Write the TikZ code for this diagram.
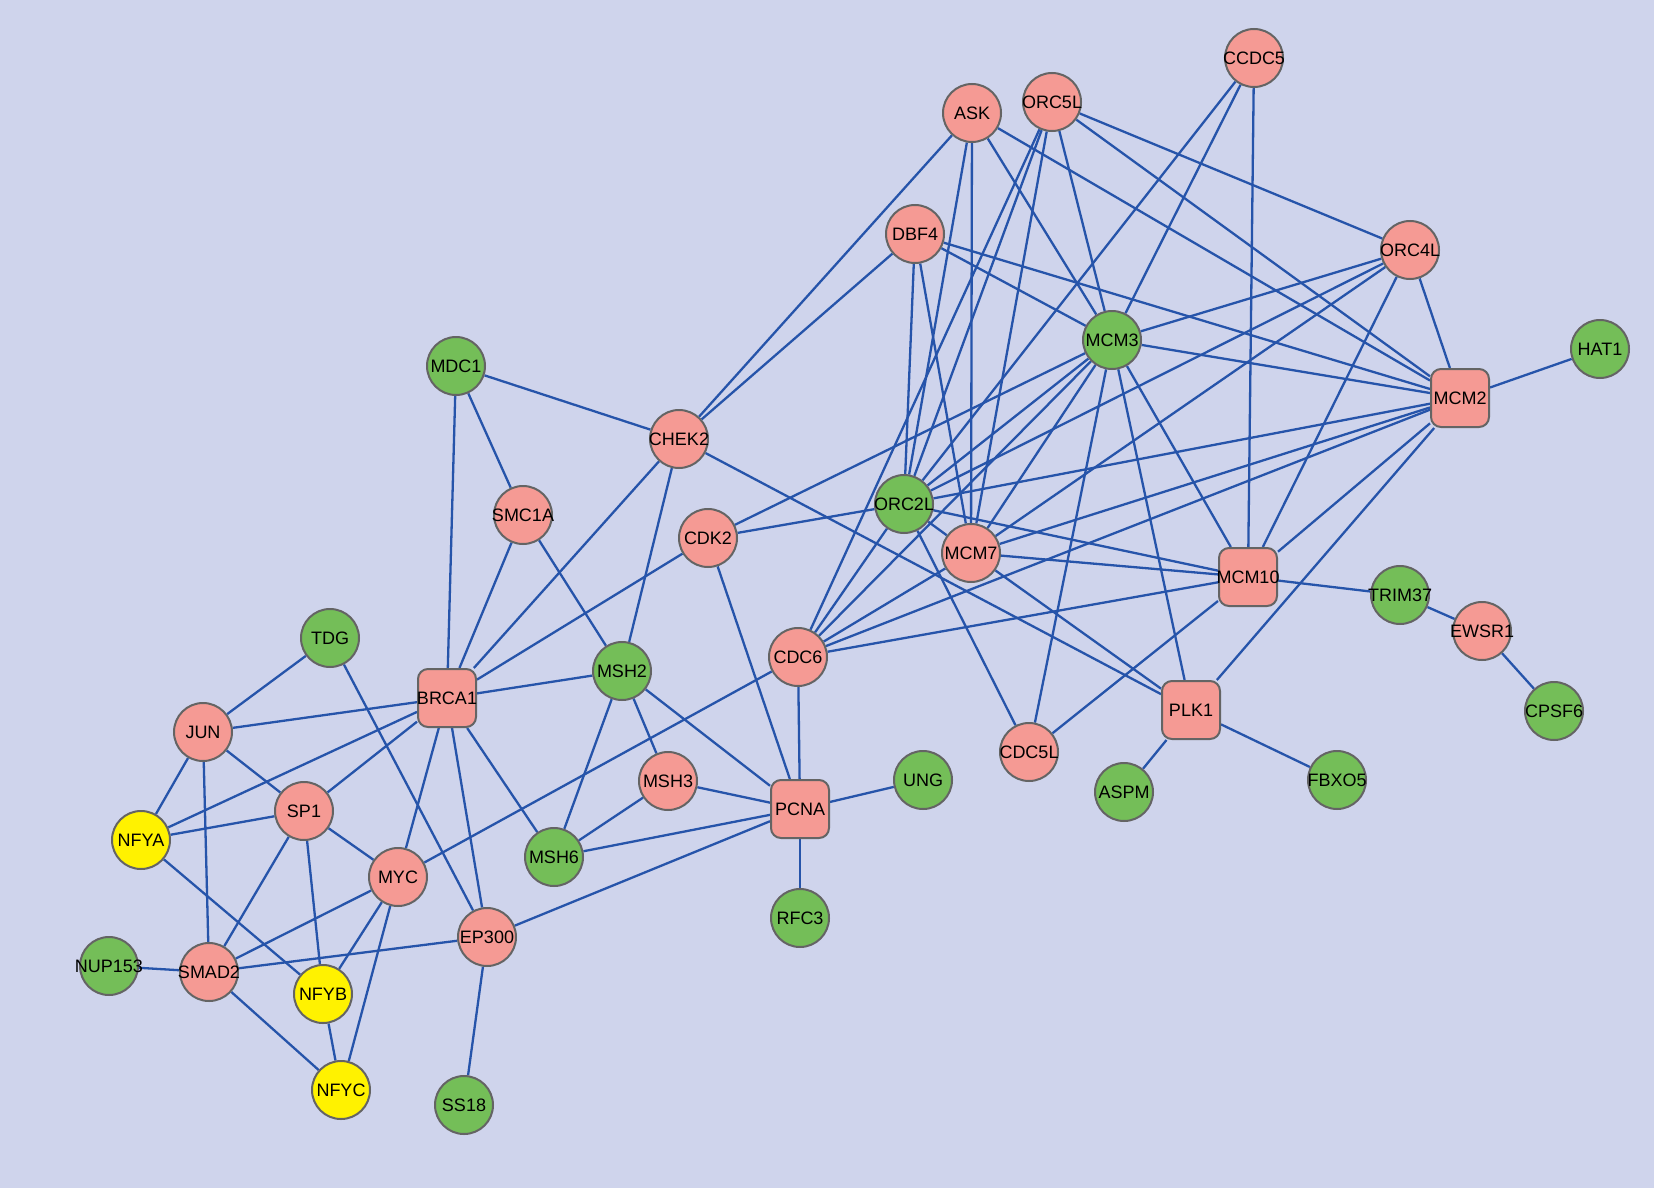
\documentclass[tikz,border=0pt]{standalone}
\usepackage{fontspec}
\setmainfont{Liberation Sans}
\definecolor{bgcol}{RGB}{207,212,236}
\definecolor{edgecol}{RGB}{38,84,170}
\definecolor{pinkcol}{RGB}{245,154,148}
\definecolor{greencol}{RGB}{116,190,88}
\definecolor{yellowcol}{RGB}{255,242,0}
\definecolor{bordercol}{RGB}{100,100,100}
\pgfdeclarelayer{bglayer}
\pgfdeclarelayer{edgelayer}
\pgfsetlayers{bglayer,edgelayer,main}
\newcommand{\genelabel}[1]{\makebox[0pt][c]{#1}}
\begin{document}
\begin{tikzpicture}[x=1pt,y=-1pt,
  gene/.style={draw=bordercol, line width=2pt, minimum size=58pt, inner sep=0pt,
    font=\fontsize{18}{18}\selectfont},
  pinkc/.style={gene, circle, fill=pinkcol},
  greenc/.style={gene, circle, fill=greencol},
  yellowc/.style={gene, circle, fill=yellowcol},
  pinksq/.style={gene, rectangle, rounded corners=10pt, fill=pinkcol},
  link/.style={draw=edgecol, line width=2.3pt}]
\begin{pgfonlayer}{bglayer}
\fill[bgcol] (0,0) rectangle (1654,1188);
\end{pgfonlayer}
\useasboundingbox (0,0) rectangle (1654,1188);
% right cluster
\node[pinkc] (CCDC5) at (1254,58) {\genelabel{CCDC5}};
\node[pinkc] (ASK) at (972,113) {\genelabel{ASK}};
\node[pinkc] (ORC5L) at (1052,102) {\genelabel{ORC5L}};
\node[pinkc] (DBF4) at (915,234) {\genelabel{DBF4}};
\node[pinkc] (ORC4L) at (1410,250) {\genelabel{ORC4L}};
\node[greenc] (MCM3) at (1112,340) {\genelabel{MCM3}};
\node[greenc] (HAT1) at (1600,349) {\genelabel{HAT1}};
\node[pinksq] (MCM2) at (1460,398) {\genelabel{MCM2}};
\node[greenc] (ORC2L) at (904,504) {\genelabel{ORC2L}};
\node[pinkc] (MCM7) at (971,553) {\genelabel{MCM7}};
\node[pinksq] (MCM10) at (1248,577) {\genelabel{MCM10}};
\node[greenc] (TRIM37) at (1400,595) {\genelabel{TRIM37}};
\node[pinkc] (EWSR1) at (1482,631) {\genelabel{EWSR1}};
\node[greenc] (CPSF6) at (1554,711) {\genelabel{CPSF6}};
\node[pinkc] (CDC6) at (798,657) {\genelabel{CDC6}};
\node[pinksq] (PLK1) at (1191,710) {\genelabel{PLK1}};
\node[pinkc] (CDC5L) at (1029,752) {\genelabel{CDC5L}};
\node[greenc] (ASPM) at (1124,792) {\genelabel{ASPM}};
\node[greenc] (FBXO5) at (1337,780) {\genelabel{FBXO5}};
% left cluster
\node[greenc] (MDC1) at (456,366) {\genelabel{MDC1}};
\node[pinkc] (CHEK2) at (679,439) {\genelabel{CHEK2}};
\node[pinkc] (SMC1A) at (523,515) {\genelabel{SMC1A}};
\node[pinkc] (CDK2) at (708,538) {\genelabel{CDK2}};
\node[greenc] (TDG) at (330,638) {\genelabel{TDG}};
\node[pinksq] (BRCA1) at (447,698) {\genelabel{BRCA1}};
\node[greenc] (MSH2) at (622,671) {\genelabel{MSH2}};
\node[pinkc] (JUN) at (203,732) {\genelabel{JUN}};
\node[pinkc] (SP1) at (304,811) {\genelabel{SP1}};
\node[yellowc] (NFYA) at (141,840) {\genelabel{NFYA}};
\node[pinkc] (MYC) at (398,877) {\genelabel{MYC}};
\node[pinkc] (MSH3) at (668,781) {\genelabel{MSH3}};
\node[pinksq] (PCNA) at (800,809) {\genelabel{PCNA}};
\node[greenc] (UNG) at (923,780) {\genelabel{UNG}};
\node[greenc] (MSH6) at (554,857) {\genelabel{MSH6}};
\node[greenc] (RFC3) at (800,918) {\genelabel{RFC3}};
\node[pinkc] (EP300) at (487,937) {\genelabel{EP300}};
\node[greenc] (NUP153) at (109,966) {\genelabel{NUP153}};
\node[pinkc] (SMAD2) at (209,972) {\genelabel{SMAD2}};
\node[yellowc] (NFYB) at (323,994) {\genelabel{NFYB}};
\node[yellowc] (NFYC) at (341,1090) {\genelabel{NFYC}};
\node[greenc] (SS18) at (464,1105) {\genelabel{SS18}};
\begin{pgfonlayer}{edgelayer}
\foreach \a/\b in {
  MDC1/CHEK2, MDC1/SMC1A, MDC1/BRCA1, SMC1A/BRCA1, SMC1A/MSH2,
  CHEK2/BRCA1, CHEK2/MSH2, CHEK2/ASK, CHEK2/DBF4, CHEK2/PLK1,
  CDK2/BRCA1, CDK2/PCNA, CDK2/ORC2L, CDK2/MCM3,
  BRCA1/MSH2, BRCA1/JUN, BRCA1/NFYA, BRCA1/SP1, BRCA1/MYC, BRCA1/EP300, BRCA1/MSH6,
  MSH2/MSH3, MSH2/MSH6, MSH2/PCNA, MSH3/PCNA, MSH3/MSH6, MSH6/PCNA,
  PCNA/UNG, PCNA/RFC3, PCNA/CDC6, PCNA/EP300, CDC6/MYC,
  EP300/SS18, EP300/SMAD2, EP300/TDG,
  JUN/TDG, JUN/SP1, JUN/NFYA, JUN/SMAD2,
  SP1/NFYA, SP1/MYC, SP1/SMAD2, SP1/NFYB, NFYA/NFYB,
  MYC/SMAD2, MYC/NFYB, MYC/NFYC, SMAD2/NUP153, SMAD2/NFYC, NFYB/NFYC,
  ASK/MCM7, ASK/ORC2L, ASK/MCM3, ASK/MCM2,
  ORC5L/ORC4L, ORC5L/MCM2, ORC5L/MCM3, ORC5L/MCM7, ORC5L/ORC2L, ORC5L/CDC6,
  DBF4/ORC2L, DBF4/MCM7, DBF4/MCM3, DBF4/MCM2,
  CCDC5/MCM3, CCDC5/ORC2L, CCDC5/MCM10,
  ORC4L/MCM3, ORC4L/ORC2L, ORC4L/MCM7, ORC4L/MCM10, ORC4L/MCM2,
  MCM3/MCM2, MCM3/ORC2L, MCM3/CDC6, MCM3/MCM7, MCM3/MCM10, MCM3/PLK1, MCM3/CDC5L,
  MCM2/HAT1, MCM2/ORC2L, MCM2/MCM7, MCM2/CDC6, MCM2/MCM10, MCM2/PLK1,
  ORC2L/MCM7, ORC2L/CDC6, ORC2L/MCM10, ORC2L/CDC5L,
  MCM7/MCM10, MCM7/PLK1, MCM7/CDC6,
  MCM10/CDC6, MCM10/TRIM37, MCM10/CDC5L,
  PLK1/ASPM, PLK1/FBXO5, TRIM37/EWSR1, EWSR1/CPSF6}
  \draw[link] (\a) -- (\b);
\end{pgfonlayer}
\end{tikzpicture}
\end{document}
